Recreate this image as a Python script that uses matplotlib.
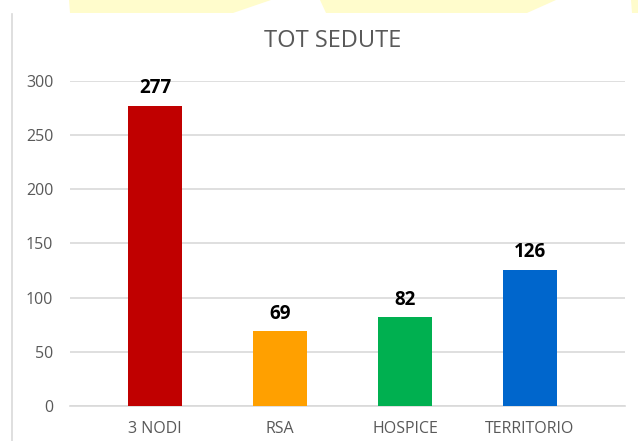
import matplotlib
matplotlib.use("Agg")
import matplotlib.pyplot as plt
from matplotlib.patches import Polygon
from matplotlib.lines import Line2D

categories = ["3 NODI", "RSA", "HOSPICE", "TERRITORIO"]
values = [277, 69, 82, 126]
colors = ["#C00000", "#FFA000", "#00B050", "#0066CC"]
yticks = [0, 50, 100, 150, 200, 250, 300]

plt.rcParams['font.family'] = ['Open Sans', 'DejaVu Sans']

W, H = 638, 441
fig = plt.figure(figsize=(W / 100, H / 100), dpi=100)
fig.patch.set_facecolor("white")

def px(x, y):
    return (x / W, 1 - y / H)

# decorative yellow shapes at top
yellow = "#FFFCCC"
for pts in [
    [(69, 0), (271, 0), (233, 13), (70, 13)],
    [(320, 0), (556, 0), (527, 13), (326, 13)],
    [(631, 0), (638, 0), (638, 13), (632, 13)],
]:
    fig.patches.append(Polygon([px(*p) for p in pts], closed=True,
                               transform=fig.transFigure, facecolor=yellow,
                               edgecolor="none"))

# left border line
fig.lines.append(Line2D([12 / W, 12 / W], [1 - 14 / H, 0], transform=fig.transFigure,
                        color="#D9D9D9", linewidth=1.2))

ax = fig.add_axes([70 / W, (H - 406) / H, (625 - 70) / W, 325 / H])
x = list(range(len(categories)))
ax.bar(x, values, width=0.43, color=colors, zorder=3)
ax.set_xlim(-0.68, 3.76)
ax.set_ylim(0, 300)
ax.set_yticks(yticks)
ax.set_xticks(x)
ax.set_xticklabels(categories)
ax.grid(axis="y", color="#D9D9D9", linewidth=1.2, zorder=0)
for s in ["top", "right", "left"]:
    ax.spines[s].set_visible(False)
ax.spines["bottom"].set_color("#D9D9D9")
ax.spines["bottom"].set_linewidth(1.2)
ax.tick_params(axis="both", length=0, colors="#595959", labelsize=11.5)
ax.tick_params(axis="y", pad=12)
ax.tick_params(axis="x", pad=11)

for xi, v in zip(x, values):
    ax.text(xi, v + 7, str(v), ha="center", va="bottom", fontsize=13.5,
            fontweight="bold", color="black")

fig.text(333 / W, 1 - 41 / H, "TOT SEDUTE", ha="center", va="center",
         fontsize=17, color="#595959")

fig.savefig("out.png", dpi=100, facecolor="white")
